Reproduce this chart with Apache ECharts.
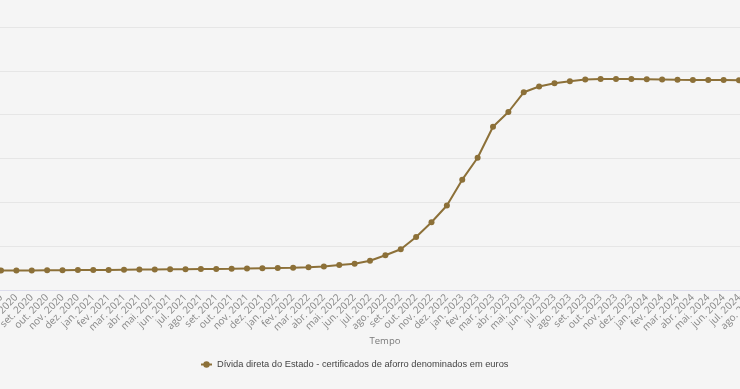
<!DOCTYPE html>
<html>
<head>
<meta charset="utf-8">
<script src="https://cdn.jsdelivr.net/npm/echarts@6/dist/echarts.min.js"></script>
<style>
html,body{margin:0;padding:0;background:#f5f5f5;}
#c{width:740px;height:389px;}
</style>
</head>
<body>
<div id="c"></div>
<script>
var categories = [
  'jun. 2020','jul. 2020','ago. 2020','set. 2020','out. 2020','nov. 2020','dez. 2020',
  'jan. 2021','fev. 2021','mar. 2021','abr. 2021','mai. 2021','jun. 2021','jul. 2021','ago. 2021','set. 2021','out. 2021','nov. 2021','dez. 2021',
  'jan. 2022','fev. 2022','mar. 2022','abr. 2022','mai. 2022','jun. 2022','jul. 2022','ago. 2022','set. 2022','out. 2022','nov. 2022','dez. 2022',
  'jan. 2023','fev. 2023','mar. 2023','abr. 2023','mai. 2023','jun. 2023','jul. 2023','ago. 2023','set. 2023','out. 2023','nov. 2023','dez. 2023',
  'jan. 2024','fev. 2024','mar. 2024','abr. 2024','mai. 2024','jun. 2024','jul. 2024','ago. 2024'
];
var seriesName = 'Dívida direta do Estado - certificados de aforro denominados em euros';
var values = [
  12210,12224,12226,12236,12247,12259,12270,
  12281,12293,12316,12327,12338,12361,12373,12395,12407,12430,12464,12487,
  12510,12544,12601,12681,12852,13000,13342,13958,14643,16046,17723,19639,
  22582,25091,28628,30304,32551,33213,33578,33818,34012,34069,34069,34069,
  34046,34012,33978,33955,33955,33955,33920,33900
];
var yMin = 10000, yMax = 40000, yStep = 5000;

var chart = echarts.init(document.getElementById('c'), null, {renderer:'canvas'});
chart.setOption({
  backgroundColor:'#f5f5f5',
  animation:false,
  grid:{left:-14.375,right:-14.375,top:27,bottom:99,containLabel:false,outerBoundsMode:'none'},
  legend:{
    data:[seriesName],
    bottom:15,
    left:195,
    itemWidth:11,
    itemHeight:8,
    itemGap:10,
    textStyle:{fontFamily:'Liberation Sans, Arial',fontSize:9.3,color:'#444'}
  },
  xAxis:{
    type:'category',
    data:categories,
    boundaryGap:false,
    name:'Tempo',
    nameLocation:'middle',
    nameGap:46,
    nameMoveOverlap:false,
    nameTextStyle:{fontFamily:'Open Sans',fontSize:9.5,color:'#7a7a7a',padding:[0,0,0,30]},
    axisLine:{lineStyle:{color:'#dcdcec'}},
    axisTick:{show:false},
    axisLabel:{rotate:45,interval:0,margin:6,fontFamily:'Open Sans',fontSize:10,color:'#888'}
  },
  yAxis:{
    type:'value',
    min:yMin,max:yMax,interval:yStep,
    axisLabel:{show:false},
    axisLine:{show:false},
    axisTick:{show:false},
    splitLine:{lineStyle:{color:'#e6e6e6'}}
  },
  series:[{
    name:seriesName,
    type:'line',
    data:values,
    symbol:'circle',
    symbolSize:6,
    color:'#8c7038',
    lineStyle:{width:2,color:'#8c7038'},
    itemStyle:{color:'#8c7038'}
  }]
});
</script>
</body>
</html>
